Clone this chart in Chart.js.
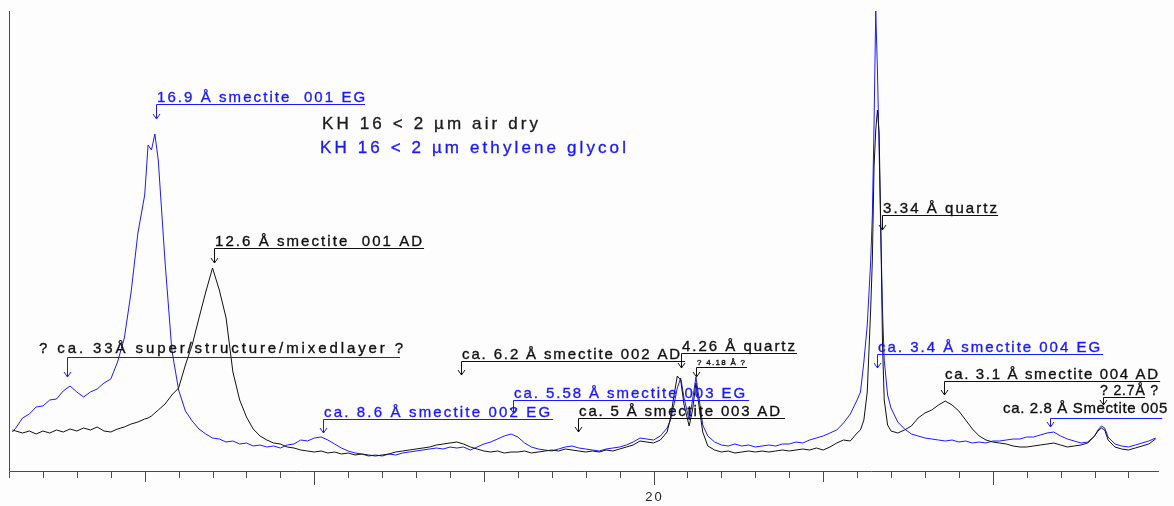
<!DOCTYPE html>
<html>
<head>
<meta charset="utf-8">
<script src="https://cdn.jsdelivr.net/npm/chart.js@4"></script>
<style>
  html, body { margin: 0; padding: 0; background: #fdfdfd; }
  #xrd { display: block; }
</style>
</head>
<body>
<canvas id="xrd" width="1174" height="506"></canvas>
<script>
// 2-theta positions (degrees) shared by both scans
const twoTheta = [
  1.1, 1.2, 1.4, 1.6, 1.8, 2.0, 2.2, 2.4, 2.6, 2.8, 3.0, 3.2, 3.4, 3.6, 3.8, 4.0, 4.2, 4.4, 4.6, 4.8,
  5.0, 5.1, 5.2, 5.3, 5.4, 5.6, 5.8, 6.0, 6.2, 6.4, 6.6, 6.8, 7.0, 7.2, 7.4, 7.6, 7.8, 8.0, 8.2, 8.4,
  8.6, 8.8, 9.0, 9.2, 9.4, 9.6, 9.8, 10.0, 10.2, 10.4, 10.6, 10.8, 11.0, 11.2, 11.4, 11.6, 11.8, 12.0,
  12.2, 12.4, 12.6, 12.8, 13.0, 13.2, 13.4, 13.6, 13.8, 14.0, 14.2, 14.4, 14.6, 14.8, 15.0, 15.2, 15.4,
  15.6, 15.8, 16.0, 16.2, 16.4, 16.6, 16.8, 17.0, 17.2, 17.4, 17.6, 17.8, 18.0, 18.2, 18.4, 18.6, 18.8,
  19.0, 19.2, 19.4, 19.6, 19.8, 20.0, 20.2, 20.4, 20.5, 20.6, 20.7, 20.8, 20.9, 21.05, 21.15, 21.25,
  21.35, 21.45, 21.6, 21.8, 22.0, 22.2, 22.4, 22.6, 22.8, 23.0, 23.2, 23.4, 23.6, 23.8, 24.0, 24.2,
  24.4, 24.6, 24.8, 25.0, 25.2, 25.4, 25.6, 25.8, 26.0, 26.1, 26.2, 26.3, 26.4, 26.45, 26.5, 26.55,
  26.6, 26.65, 26.7, 26.75, 26.8, 26.9, 27.0, 27.2, 27.4, 27.6, 27.8, 28.0, 28.2, 28.4, 28.6, 28.8,
  29.0, 29.2, 29.4, 29.6, 29.8, 30.0, 30.2, 30.4, 30.6, 30.8, 31.0, 31.2, 31.4, 31.6, 31.8, 32.0,
  32.2, 32.4, 32.6, 32.8, 33.0, 33.1, 33.2, 33.3, 33.4, 33.6, 33.8, 34.0, 34.2, 34.4, 34.6, 34.8
];

// KH 16 < 2 um, air dry (black)
const airDry = [
  41, 40, 38, 40, 37, 40, 38, 41, 39, 42, 40, 43, 41, 44, 40, 39, 42, 44, 47, 49,
  52, 53, 55, 58, 61, 67, 76, 83, 106, 126, 153, 179, 203, 181, 153, 99, 71, 54, 42, 35,
  31, 28, 27, 24, 23, 21, 20, 19, 20, 18, 19, 17, 18, 16, 17, 16, 15, 16,
  17, 19, 20, 21, 22, 23, 24, 26, 27, 28, 29, 27, 24, 22, 20, 19, 20,
  18, 19, 19, 20, 18, 19, 20, 21, 20, 22, 21, 20, 19, 20, 19, 21, 20,
  22, 24, 26, 30, 29, 28, 31, 39, 53, 75, 95, 91, 66, 45, 61, 88,
  63, 39, 25, 21, 19, 20, 18, 19, 20, 19, 20, 19, 20, 21, 20, 21,
  22, 21, 23, 21, 24, 28, 31, 30, 38, 41, 51, 79, 161, 211, 304, 341,
  361, 338, 241, 126, 71, 46, 40, 38, 41, 45, 53, 58, 61, 66, 70, 66,
  60, 51, 42, 35, 31, 29, 28, 27, 25, 24, 24, 25, 26, 27, 28, 26,
  24, 25, 26, 28, 35, 40, 43, 41, 31, 24, 22, 21, 23, 25, 27, 32
];

// KH 16 < 2 um, ethylene glycol (blue)
const glycol = [
  39, 43, 53, 57, 64, 65, 71, 72, 80, 85, 79, 74, 79, 82, 88, 92, 109, 133, 179, 238,
  276, 326, 321, 337, 311, 209, 121, 81, 60, 50, 42, 37, 33, 32, 29, 30, 27, 28, 25, 26,
  24, 25, 23, 26, 27, 31, 30, 33, 34, 31, 27, 23, 20, 18, 17, 15, 16, 15,
  17, 16, 18, 19, 20, 21, 22, 23, 22, 24, 23, 24, 21, 24, 27, 29, 32,
  35, 37, 34, 28, 24, 22, 21, 20, 22, 24, 25, 23, 22, 21, 20, 22, 23,
  24, 26, 29, 33, 32, 31, 35, 43, 51, 66, 83, 93, 73, 51, 71, 94,
  71, 46, 35, 29, 26, 25, 27, 25, 26, 24, 25, 26, 25, 27, 27, 29,
  28, 31, 33, 35, 38, 41, 48, 57, 71, 79, 109, 146, 209, 256, 346, 460,
  401, 321, 236, 161, 111, 76, 63, 49, 42, 37, 35, 33, 32, 31, 30, 31,
  29, 30, 28, 29, 28, 30, 30, 31, 32, 32, 34, 34, 36, 38, 39, 35,
  32, 30, 28, 29, 35, 41, 45, 43, 34, 27, 25, 24, 26, 28, 30, 33
];

const xTickLabels = [20];

const seriesNames = ["KH 16 < 2 µm air dry", "KH 16 < 2 µm ethylene glycol"];

const BLACK = "#111111";
const BLUE = "#1a1aff";

// peak labels: at = arrow position (2theta), level/tip = intensities,
// from/textTo = text span (2theta), to = end of the underline
const peakNotes = [
  { text: "16.9 Å smectite  001 EG", color: BLUE, line: BLUE, at: 5.334, level: 367, tip: 352, from: 5.363, textTo: 11.495, to: 11.495 },
  { text: "12.6 Å smectite  001 AD", color: BLACK, line: BLACK, at: 7.044, level: 223, tip: 208, from: 7.073, textTo: 13.176, to: 13.235 },
  { text: "? ca. 33Å super/structure/mixedlayer ?", color: BLACK, line: BLUE, at: 2.71, level: 114, tip: 94, from: 1.884, textTo: 12.616, to: 12.527, gap: 4 },
  { text: "ca. 8.6 Å smectite 002 EG", color: BLUE, line: BLUE, at: 10.257, level: 52, tip: 38, from: 10.287, textTo: 16.949, to: 17.038 },
  { text: "ca. 6.2 Å smectite 002 AD", color: BLACK, line: BLACK, at: 14.325, level: 110, tip: 96, from: 14.355, textTo: 20.782, to: 20.929 },
  { text: "4.26 Å quartz", color: BLACK, line: BLACK, at: 20.811, level: 118, tip: 103, from: 20.84, textTo: 24.172, to: 24.231 },
  { text: "? 4.18 Å ?", color: BLACK, line: BLACK, at: 21.254, level: 104, tip: 94, from: 21.283, textTo: 22.698, to: 22.757, size: 8 },
  { text: "ca. 5.58 Å smectite 003 EG", color: BLUE, line: BLUE, at: 15.858, level: 71, tip: 58, from: 15.888, textTo: 22.698, to: 22.816 },
  { text: "ca. 5 Å smectite 003 AD", color: BLACK, line: BLACK, at: 17.775, level: 53, tip: 39, from: 17.805, textTo: 23.73, to: 23.877 },
  { text: "3.34 Å quartz", color: BLACK, line: BLACK, at: 26.737, level: 256, tip: 241, from: 26.767, textTo: 30.127, to: 30.156 },
  { text: "ca. 3.4 Å smectite 004 EG", color: BLUE, line: BLUE, at: 26.59, level: 117, tip: 103, from: 26.619, textTo: 33.164, to: 33.252 },
  { text: "ca. 3.1 Å smectite 004 AD", color: BLACK, line: BLACK, at: 28.565, level: 90, tip: 76, from: 28.594, textTo: 34.875, to: 34.934 },
  { text: "? 2.7Å ?", color: BLACK, line: BLACK, at: 33.252, level: 74, tip: 66, from: 33.164, textTo: 34.875, to: 34.491, size: 14 },
  { text: "ca. 2.8 Å Smectite 005", color: BLACK, line: BLUE, at: 31.69, level: 53, tip: 44, from: 30.304, textTo: 35.142, to: 34.994, gap: 5 }
];

// legend text: left/right in 2theta, baseline as intensity
const legendNotes = [
  { text: seriesNames[0], color: "#1c1c1c", from: 10.228, to: 16.595, base: 342 },
  { text: seriesNames[1], color: BLUE, from: 10.169, to: 19.19, base: 318 }
];

function fitText(ctx, text, left, right, baseline) {
  ctx.letterSpacing = "0px";
  const w = ctx.measureText(text).width;
  const ls = text.length > 1 ? (right - left - w) / (text.length - 1) : 0;
  ctx.letterSpacing = ls.toFixed(2) + "px";
  ctx.fillText(text, left, baseline);
  ctx.lineWidth = 0.35;
  ctx.strokeStyle = ctx.fillStyle;
  ctx.strokeText(text, left, baseline);
  ctx.lineWidth = 1;
  ctx.letterSpacing = "0px";
}

const decor = {
  id: "decor",
  afterDatasetsDraw(chart) {
    const { ctx, chartArea: a, scales } = chart;
    const xs = scales.x, ys = scales.y;
    ctx.save();

    // axes
    ctx.lineWidth = 1;
    ctx.strokeStyle = "#4a4a4a";
    ctx.beginPath();
    ctx.moveTo(a.left + 0.5, a.top);
    ctx.lineTo(a.left + 0.5, a.bottom + 0.5);
    ctx.lineTo(a.right, a.bottom + 0.5);
    ctx.stroke();
    ctx.beginPath();
    for (let v = 1; v <= 34; v++) {
      const px = Math.round(xs.getPixelForValue(v)) + 0.5;
      const len = v % 10 === 0 ? 13 : v % 5 === 0 ? 10 : 6;
      ctx.moveTo(px, a.bottom + 1);
      ctx.lineTo(px, a.bottom + 1 + len);
    }
    ctx.stroke();

    ctx.fillStyle = "#222";
    ctx.font = "13px 'Liberation Sans', Arial, sans-serif";
    ctx.textAlign = "center";
    ctx.textBaseline = "middle";
    xTickLabels.forEach((v) => {
      ctx.letterSpacing = "2px";
      ctx.fillText(String(v), xs.getPixelForValue(v) + 1, a.bottom + 26);
    });
    ctx.letterSpacing = "0px";

    // peak labels
    ctx.textAlign = "left";
    ctx.textBaseline = "alphabetic";
    peakNotes.forEach((n) => {
      const ax = Math.round(xs.getPixelForValue(n.at)) + 0.5;
      const ly = Math.round(ys.getPixelForValue(n.level)) + 0.5;
      const ty = Math.round(ys.getPixelForValue(n.tip));
      const ex = xs.getPixelForValue(n.to);
      ctx.strokeStyle = n.line;
      ctx.lineWidth = 1;
      ctx.beginPath();
      ctx.moveTo(ex, ly);
      ctx.lineTo(ax, ly);
      ctx.lineTo(ax, ty);
      ctx.moveTo(ax - 3.5, ty - 5);
      ctx.lineTo(ax, ty);
      ctx.lineTo(ax + 3.5, ty - 5);
      ctx.stroke();

      ctx.fillStyle = n.color;
      ctx.font = (n.size || 15) + "px 'Liberation Sans', Arial, sans-serif";
      fitText(ctx, n.text, xs.getPixelForValue(n.from), xs.getPixelForValue(n.textTo), ly - 0.5 - (n.gap || 2));
    });

    legendNotes.forEach((n) => {
      ctx.fillStyle = n.color;
      ctx.font = "17px 'Liberation Sans', Arial, sans-serif";
      fitText(ctx, n.text, xs.getPixelForValue(n.from), xs.getPixelForValue(n.to), ys.getPixelForValue(n.base));
    });
    ctx.restore();
  }
};

const toPoints = (values) => twoTheta.map((t, i) => ({ x: t, y: values[i] }));

new Chart(document.getElementById("xrd"), {
  type: "line",
  data: {
    datasets: [
      { label: seriesNames[0], data: toPoints(airDry), borderColor: BLACK, borderWidth: 1, pointRadius: 0, tension: 0, fill: false },
      { label: seriesNames[1], data: toPoints(glycol), borderColor: BLUE, borderWidth: 1, pointRadius: 0, tension: 0, fill: false }
    ]
  },
  options: {
    responsive: false,
    animation: false,
    devicePixelRatio: 1,
    layout: { padding: { left: 9, right: 15, top: 11, bottom: 35 } },
    plugins: { legend: { display: false }, tooltip: { enabled: false } },
    scales: {
      x: { type: "linear", min: 1, max: 34.9, display: false },
      y: { min: 0, max: 460, display: false }
    }
  },
  plugins: [decor]
});
</script>
</body>
</html>
